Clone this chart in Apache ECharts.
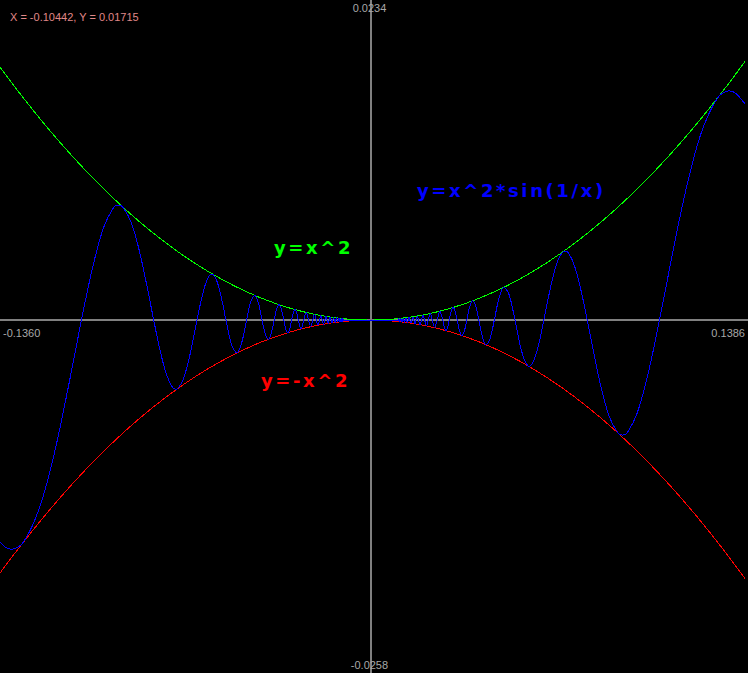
<!DOCTYPE html>
<html><head><meta charset="utf-8">
<script src="https://cdn.jsdelivr.net/npm/echarts@6/dist/echarts.min.js"></script>
<style>
html,body{margin:0;padding:0;background:#000;overflow:hidden;}
#chart{width:748px;height:673px;}
#chart svg path{shape-rendering:crispEdges;}
</style>
</head><body><div id="chart"></div>
<script>
const xRange = [-0.1360, 0.1386];
const yRange = [-0.0258, 0.0234];
const xTickLabels = ['-0.1360', '0.1386'];
const yTickLabels = ['-0.0258', '0.0234'];
const cursorText = 'X = -0.10442, Y = 0.01715';
const curveLabels = ['y=x^2', 'y=-x^2', 'y=x^2*sin(1/x)'];

const paraX = [-0.136, -0.13, -0.12, -0.11, -0.1, -0.09, -0.08, -0.07, -0.06, -0.05, -0.04, -0.03, -0.02, -0.01, 0,
  0.01, 0.02, 0.03, 0.04, 0.05, 0.06, 0.07, 0.08, 0.09, 0.1, 0.11, 0.12, 0.13, 0.1375];
const greenY = [0.018496, 0.0169, 0.0144, 0.0121, 0.01, 0.0081, 0.0064, 0.0049, 0.0036, 0.0025, 0.0016, 0.0009, 0.0004, 0.0001, 0,
  0.0001, 0.0004, 0.0009, 0.0016, 0.0025, 0.0036, 0.0049, 0.0064, 0.0081, 0.01, 0.0121, 0.0144, 0.0169, 0.018906];
const redY = [-0.018496, -0.0169, -0.0144, -0.0121, -0.01, -0.0081, -0.0064, -0.0049, -0.0036, -0.0025, -0.0016, -0.0009, -0.0004, -0.0001, 0,
  -0.0001, -0.0004, -0.0009, -0.0016, -0.0025, -0.0036, -0.0049, -0.0064, -0.0081, -0.01, -0.0121, -0.0144, -0.0169, -0.018906];

const blueLeft = [
  [-0.136, -0.016221], [-0.134025, -0.016595], [-0.13163, -0.016757], [-0.127324, -0.016211],
  [-0.121261, -0.013585], [-0.115749, -0.009474], [-0.110716, -0.004691], [-0.106103, 0],
  [-0.101859, 0.00397], [-0.097942, 0.006783], [-0.094314, 0.008218], [-0.092484, 0.00841],
  [-0.090946, 0.008271], [-0.08781, 0.007124], [-0.084883, 0.005095], [-0.082145, 0.002582],
  [-0.079577, 0], [-0.077166, -0.002279], [-0.074896, -0.003967], [-0.072756, -0.004891],
  [-0.071454, -0.005054], [-0.070736, -0.005004], [-0.068824, -0.004376], [-0.067013, -0.003175],
  [-0.065294, -0.001632], [-0.063662, 0], [-0.062109, 0.001476], [-0.060631, 0.002599],
  [-0.05922, 0.00324], [-0.058266, 0.003372], [-0.057875, 0.003349], [-0.056588, 0.002959],
  [-0.055358, 0.002167], [-0.05418, 0.001123], [-0.053052, 0], [-0.05093, -0.001834],
  [-0.048971, -0.002398], [-0.047157, -0.001572], [-0.045473, 0], [-0.043905, 0.001363],
  [-0.042441, 0.001801], [-0.041072, 0.001193], [-0.039789, 0], [-0.038583, -0.001053],
  [-0.037448, -0.001402], [-0.036378, -0.000936], [-0.035368, 0], [-0.034412, 0.000837],
  [-0.033506, 0.001123], [-0.032647, 0.000754], [-0.031831, 0], [-0.031055, -0.000682],
  [-0.030315, -0.000919], [-0.02961, -0.00062], [-0.028937, 0], [-0.028294, 0.000566],
  [-0.027679, 0.000766], [-0.02709, 0.000519], [-0.026526, 0], [-0.025465, -0.000648],
  [-0.024485, 0], [-0.023578, 0.000556], [-0.022736, 0], [-0.021952, -0.000482],
  [-0.021221, 0], [-0.020536, 0.000422], [-0.019894, 0], [-0.019291, -0.000372],
  [-0.018724, 0], [-0.018189, 0.000331], [-0.017684, 0], [-0.017206, -0.000296],
  [-0.016753, 0], [-0.016324, 0.000266], [-0.015915, 0], [-0.015527, -0.000241],
  [-0.015158, 0], [-0.014805, 0.000219], [-0.014469, 0], [-0.014147, -0.0002],
  [-0.01384, 0], [-0.013545, 0.000183], [-0.013263, 0], [-0.012992, -0.000169],
  [-0.012732, 0], [-0.012483, 0.000156], [-0.012243, 0], [-0.012012, -0.000144],
  [-0.011789, 0], [-0.011575, 0.000134], [-0.011368, 0], [-0.011169, -0.000125],
  [-0.010976, 0], [-0.01079, 0.000116], [-0.01061, 0], [-0.010436, -0.000109],
  [-0.010268, 0], [-0.010105, 0.000102], [-0.009947, 0], [0, 0]
];
const blueRight = [
  [0.009947, 0], [0.010105, -0.000102], [0.010268, 0], [0.010436, 0.000109],
  [0.01061, 0], [0.01079, -0.000116], [0.010976, 0], [0.011169, 0.000125],
  [0.011368, 0], [0.011575, -0.000134], [0.011789, 0], [0.012012, 0.000144],
  [0.012243, 0], [0.012483, -0.000156], [0.012732, 0], [0.012992, 0.000169],
  [0.013263, 0], [0.013545, -0.000183], [0.01384, 0], [0.014147, 0.0002],
  [0.014469, 0], [0.014805, -0.000219], [0.015158, 0], [0.015527, 0.000241],
  [0.015915, 0], [0.016324, -0.000266], [0.016753, 0], [0.017206, 0.000296],
  [0.017684, 0], [0.018189, -0.000331], [0.018724, 0], [0.019291, 0.000372],
  [0.019894, 0], [0.020536, -0.000422], [0.021221, 0], [0.021952, 0.000482],
  [0.022736, 0], [0.023578, -0.000556], [0.024485, 0], [0.025465, 0.000648],
  [0.026526, 0], [0.02709, -0.000519], [0.027679, -0.000766], [0.028294, -0.000566],
  [0.028937, 0], [0.02961, 0.00062], [0.030315, 0.000919], [0.031055, 0.000682],
  [0.031831, 0], [0.032647, -0.000754], [0.033506, -0.001123], [0.034412, -0.000837],
  [0.035368, 0], [0.036378, 0.000936], [0.037448, 0.001402], [0.038583, 0.001053],
  [0.039789, 0], [0.041072, -0.001193], [0.042441, -0.001801], [0.043905, -0.001363],
  [0.045473, 0], [0.047157, 0.001572], [0.048971, 0.002398], [0.05093, 0.001834],
  [0.053052, 0], [0.05418, -0.001123], [0.055358, -0.002167], [0.056588, -0.002959],
  [0.057875, -0.003349], [0.058266, -0.003372], [0.05922, -0.00324], [0.060631, -0.002599],
  [0.062109, -0.001476], [0.063662, 0], [0.065294, 0.001632], [0.067013, 0.003175],
  [0.068824, 0.004376], [0.070736, 0.005004], [0.071454, 0.005054], [0.072756, 0.004891],
  [0.074896, 0.003967], [0.077166, 0.002279], [0.079577, 0], [0.082145, -0.002582],
  [0.084883, -0.005095], [0.08781, -0.007124], [0.090946, -0.008271], [0.092484, -0.00841],
  [0.094314, -0.008218], [0.097942, -0.006783], [0.101859, -0.00397], [0.106103, 0],
  [0.110716, 0.004691], [0.115749, 0.009474], [0.121261, 0.013585], [0.127324, 0.016211],
  [0.13163, 0.016757], [0.134025, 0.016595], [0.1375, 0.015802]
];

const chart = echarts.init(document.getElementById('chart'), null, {renderer: 'svg', width: 748, height: 673});

const axisFont = '11px "Liberation Sans", Arial, sans-serif';
const axisLabelColor = '#a8a8a8';
const curveFont = 'bold 18px "DejaVu Sans", sans-serif';

const option = {
  backgroundColor: '#000000',
  animation: false,
  grid: {left: 0, right: 0, top: 0, bottom: 0, containLabel: false, outerBoundsMode: 'none'},
  xAxis: {
    type: 'value', min: xRange[0], max: xRange[1],
    axisLine: {show: true, onZero: true, lineStyle: {color: '#808080', width: 2}},
    axisTick: {show: false}, splitLine: {show: false}, axisLabel: {show: false}
  },
  yAxis: {
    type: 'value', min: yRange[0], max: yRange[1],
    axisLine: {show: true, onZero: true, lineStyle: {color: '#808080', width: 2}},
    axisTick: {show: false}, splitLine: {show: false}, axisLabel: {show: false}
  },
  series: [
    {type: 'line', name: curveLabels[0], data: paraX.map((x, i) => [x, greenY[i]]),
     symbol: 'none', smooth: 0.33, silent: true, z: 2,
     lineStyle: {color: '#00ff00', width: 1}},
    {type: 'line', name: curveLabels[1], data: paraX.map((x, i) => [x, redY[i]]),
     symbol: 'none', smooth: 0.33, silent: true, z: 2,
     lineStyle: {color: '#ff0000', width: 1}},
    {type: 'line', name: curveLabels[2], data: blueLeft.concat(blueRight),
     symbol: 'none', smooth: 0.33, silent: true, z: 3,
     lineStyle: {color: '#0000ff', width: 1}}
  ]
};
chart.setOption(option);

// axis end labels, anchored through the chart's own scales
const pxMin = chart.convertToPixel({gridIndex: 0}, [xRange[0], 0]);
const pxMax = chart.convertToPixel({gridIndex: 0}, [xRange[1], 0]);
const pyMin = chart.convertToPixel({gridIndex: 0}, [0, yRange[0]]);
const pyMax = chart.convertToPixel({gridIndex: 0}, [0, yRange[1]]);

chart.setOption({
  graphic: [
    {type: 'text', x: pxMin[0] + 3, y: pxMin[1] + 13, silent: true, z: 1,
     style: {text: xTickLabels[0], fill: axisLabelColor, font: axisFont, align: 'left', verticalAlign: 'middle'}},
    {type: 'text', x: pxMax[0] - 3, y: pxMax[1] + 13, silent: true, z: 1,
     style: {text: xTickLabels[1], fill: axisLabelColor, font: axisFont, align: 'right', verticalAlign: 'middle'}},
    {type: 'text', x: pyMax[0] - 1, y: pyMax[1] + 8, silent: true, z: 1,
     style: {text: yTickLabels[1], fill: axisLabelColor, font: axisFont, align: 'center', verticalAlign: 'middle'}},
    {type: 'text', x: pyMin[0] - 1, y: pyMin[1] - 8, silent: true, z: 1,
     style: {text: yTickLabels[0], fill: axisLabelColor, font: axisFont, align: 'center', verticalAlign: 'middle'}},
    {type: 'text', left: 10, top: 11, silent: true,
     style: {text: cursorText, fill: '#e08888', font: axisFont}},
    {type: 'text', left: 274, top: 238, silent: true,
     style: {text: curveLabels[0], fill: '#00ff00', font: curveFont}},
    {type: 'text', left: 261, top: 371, silent: true,
     style: {text: curveLabels[1], fill: '#ff0000', font: curveFont}},
    {type: 'text', left: 417, top: 181, silent: true,
     style: {text: curveLabels[2], fill: '#0000ff', font: curveFont}}
  ]
});

function spaceLabels() {
  document.querySelectorAll('#chart svg text').forEach(function (t) {
    if (curveLabels.indexOf(t.textContent) >= 0) t.style.letterSpacing = '2.6px';
  });
}
spaceLabels();
chart.on('finished', spaceLabels);
</script>
</body></html>
